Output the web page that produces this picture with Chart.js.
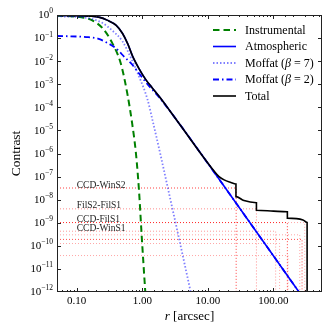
<!DOCTYPE html>
<html>
<head>
<meta charset="utf-8">
<script src="https://cdn.jsdelivr.net/npm/chart.js@4/dist/chart.umd.min.js"></script>
<style>
html, body { margin: 0; padding: 0; background: #fff; }
#caja { width: 332px; height: 332px; }
</style>
</head>
<body>
<div id="caja"><canvas id="grafica" width="332" height="332"></canvas></div>
<script>
/******************************************* DATOS *******************************************/
// Ejes
const xMin = 0.05, xMax = 550;
const yMin = 1e-12, yMax = 1;
const xTicks = [0.1, 1, 10, 100];
const xTickLabels = ["0.10", "1.00", "10.00", "100.00"];
const yTicks = [1, 1e-1, 1e-2, 1e-3, 1e-4, 1e-5, 1e-6, 1e-7, 1e-8, 1e-9, 1e-10, 1e-11, 1e-12];
const yTickExp = ["0", "\u22121", "\u22122", "\u22123", "\u22124", "\u22125", "\u22126", "\u22127", "\u22128", "\u22129", "\u221210", "\u221211", "\u221212"];

// Instrumental (verde, discontinua)
const rInstr = [0.05, 0.1, 0.13, 0.17, 0.25, 0.35, 0.47, 0.59, 0.70, 0.80, 0.89, 0.98, 1.11];
const cInstr = [0.93, 0.85, 0.76, 0.60, 0.26, 0.059, 7.9e-3, 4.0e-4, 2.0e-5, 1.0e-6, 2.5e-8, 2.5e-10, 1e-12];

// Atmospheric (azul)
const rAtmos = [0.05, 0.1, 0.155, 0.224, 0.29, 0.40, 0.50, 0.60, 0.71, 0.89, 1.13, 1.41, 1.80, 2.56, 3.98, 9.27, 245];
const cAtmos = [0.955, 0.933, 0.89, 0.79, 0.60, 0.355, 0.158, 0.056, 0.0166, 4.8e-3, 1.58e-3, 7.1e-4, 3.0e-4, 7.9e-5, 1.41e-5, 5.1e-7, 1e-12];

// Moffat beta = 7 (azul claro, punteada)
const rMoffat7 = [0.05, 0.1, 0.155, 0.25, 0.35, 0.50, 0.67, 0.89, 1.2, 1.43, 1.91, 2.41, 3.42, 5.47];
const cMoffat7 = [0.87, 0.83, 0.72, 0.44, 0.21, 0.071, 0.014, 2.2e-3, 2.2e-4, 2.8e-5, 7.9e-7, 4.0e-8, 4.5e-10, 1e-12];

// Moffat beta = 2 (azul, raya-punto)
const rMoffat2 = [0.05, 0.1, 0.15, 0.21, 0.29, 0.40, 0.53, 0.71, 0.89, 1.2, 1.8, 3.16, 10, 245];
const cMoffat2 = [0.123, 0.117, 0.11, 0.095, 0.063, 0.035, 0.0155, 6.8e-3, 2.95e-3, 1.0e-3, 2.75e-4, 3.5e-5, 3.7e-7, 1e-12];

// Total (negro, con escalones)
const rTotal = [0.05, 0.1, 0.155, 0.224, 0.29, 0.40, 0.50, 0.60, 0.71, 0.89, 1.13, 1.41, 1.80, 2.56, 3.98, 9.27, 12.6, 14.8, 17.7, 22.4, 26.8, 26.8, 35.5, 55, 55, 100, 163, 163, 282, 326, 326];
const cTotal = [0.955, 0.933, 0.89, 0.79, 0.60, 0.355, 0.158, 0.056, 0.0166, 4.8e-3, 1.58e-3, 7.1e-4, 3.0e-4, 7.9e-5, 1.41e-5, 5.1e-7, 1.66e-7, 1.0e-7, 7.2e-8, 5.6e-8, 4.8e-8, 1.35e-8, 9.1e-9, 7.4e-9, 3.5e-9, 3.2e-9, 3.0e-9, 1.58e-9, 1.32e-9, 1.02e-9, 1e-12];

// Fantasmas (lineas rojas punteadas)
const ghostNames = ["CCD-WinS2", "FilS2-FilS1", "CCD-FilS1", "", "CCD-WinS1", "", "", "", ""];
const ghostLevels = [3.2e-8, 4.0e-9, 1.02e-9, 1.02e-9, 4.3e-10, 3.0e-10, 1.9e-10, 1.26e-10, 3.8e-11];
const ghostRadii = [27, 55, 163, 300, 108, 252, 273, 124, 167];
const ghostAlpha = [0.75, 0.45, 0.75, 0.35, 0.4, 0.35, 0.7, 0.35, 0.35];
const ghostLabelAt = 0.1;
/*********************************************************************************************/

const serif = "'Liberation Serif', 'DejaVu Serif', serif";

function curva(r, c) {
    return r.map((v, i) => ({ x: v, y: c[i] }));
}

// Series principales (en el orden de la leyenda)
const datasets = [
    {
        label: "Instrumental",
        leyenda: [["Instrumental", false]],
        data: curva(rInstr, cInstr),
        borderColor: "#008000",
        borderWidth: 2,
        borderDash: [6.5, 4],
        order: 4,
    },
    {
        label: "Atmospheric",
        leyenda: [["Atmospheric", false]],
        data: curva(rAtmos, cAtmos),
        borderColor: "#0000ff",
        borderWidth: 1.6,
        order: 3,
    },
    {
        label: "Moffat7",
        leyenda: [["Moffat (", false], ["\u03b2", true], [" = 7)", false]],
        data: curva(rMoffat7, cMoffat7),
        borderColor: "rgba(0,0,255,0.5)",
        borderWidth: 1.8,
        borderDash: [1.5, 2],
        order: 2,
    },
    {
        label: "Moffat2",
        leyenda: [["Moffat (", false], ["\u03b2", true], [" = 2)", false]],
        data: curva(rMoffat2, cMoffat2),
        borderColor: "#0000ff",
        borderWidth: 1.8,
        borderDash: [6, 3, 1.5, 3],
        order: 1,
    },
    {
        label: "Total",
        leyenda: [["Total", false]],
        data: curva(rTotal, cTotal),
        borderColor: "#000000",
        borderWidth: 1.6,
        order: 0,
    },
];

// Lineas de los fantasmas: horizontal hasta su radio y luego vertical hasta abajo
for (let i = 0; i < ghostLevels.length; i++) {
    datasets.push({
        label: "ghost" + i,
        data: [
            { x: xMin, y: ghostLevels[i] },
            { x: ghostRadii[i], y: ghostLevels[i] },
            { x: ghostRadii[i], y: yMin },
        ],
        borderColor: "rgba(255,0,0," + ghostAlpha[i] + ")",
        borderWidth: 1,
        borderDash: [1, 2],
        cubicInterpolationMode: "default",
        tension: 0,
        order: 5,
    });
}

function esDecada(v) {
    const lg = Math.log10(v);
    return Math.abs(lg - Math.round(lg)) < 1e-6;
}

// Marco, ticks hacia dentro, etiquetas de los ejes, titulos, leyenda
const marco = {
    id: "marco",
    afterDatasetsDraw(chart) {
        const ctx = chart.ctx;
        const a = chart.chartArea;
        const sx = chart.scales.x;
        const sy = chart.scales.y;
        ctx.save();

        // etiquetas de los fantasmas
        ctx.fillStyle = "#222";
        ctx.font = "9.5px " + serif;
        ctx.textAlign = "left";
        ctx.textBaseline = "alphabetic";
        for (let i = 0; i < ghostNames.length; i++) {
            if (!ghostNames[i]) continue;
            ctx.fillText(ghostNames[i], sx.getPixelForValue(ghostLabelAt), sy.getPixelForValue(ghostLevels[i]) - 0.5);
        }

        // marco
        ctx.strokeStyle = "#222";
        ctx.lineWidth = 1;
        ctx.setLineDash([]);
        ctx.strokeRect(a.left + 0.5, a.top + 0.5, a.right - a.left - 1, a.bottom - a.top - 1);

        // ticks eje x (arriba y abajo)
        ctx.beginPath();
        sx.ticks.forEach((t) => {
            const px = Math.round(sx.getPixelForValue(t.value)) + 0.5;
            if (px <= a.left + 1 || px >= a.right - 1) return;
            const len = esDecada(t.value) ? 4 : 2;
            ctx.moveTo(px, a.bottom);
            ctx.lineTo(px, a.bottom - len);
            ctx.moveTo(px, a.top);
            ctx.lineTo(px, a.top + len);
        });
        // ticks eje y (izquierda y derecha)
        yTicks.forEach((v) => {
            const py = Math.round(sy.getPixelForValue(v)) + 0.5;
            if (py <= a.top + 1 || py >= a.bottom - 1) return;
            ctx.moveTo(a.left, py);
            ctx.lineTo(a.left + 4, py);
            ctx.moveTo(a.right, py);
            ctx.lineTo(a.right - 4, py);
        });
        ctx.stroke();

        // etiquetas eje x
        ctx.fillStyle = "#000";
        ctx.font = "11px " + serif;
        ctx.textAlign = "center";
        ctx.textBaseline = "middle";
        for (let i = 0; i < xTicks.length; i++) {
            ctx.fillText(xTickLabels[i], sx.getPixelForValue(xTicks[i]), a.bottom + 9);
        }

        // etiquetas eje y: 10 con exponente
        ctx.textAlign = "left";
        for (let i = 0; i < yTicks.length; i++) {
            const py = sy.getPixelForValue(yTicks[i]);
            ctx.font = "7.5px " + serif;
            const we = ctx.measureText(yTickExp[i]).width;
            ctx.font = "11px " + serif;
            const wb = ctx.measureText("10").width;
            const xe = a.left - 4 - we;
            ctx.fillText("10", xe - wb, py + 0.5);
            ctx.font = "7.5px " + serif;
            ctx.fillText(yTickExp[i], xe, py - 3.5);
        }

        // titulo eje y
        ctx.font = "13.5px " + serif;
        ctx.textAlign = "center";
        ctx.save();
        ctx.translate(16, (a.top + a.bottom) / 2);
        ctx.rotate(-Math.PI / 2);
        ctx.fillText("Contrast", 0, 0);
        ctx.restore();

        // titulo eje x: r [arcsec]
        ctx.textAlign = "left";
        ctx.font = "italic 13px " + serif;
        const wr = ctx.measureText("r").width;
        ctx.font = "13px " + serif;
        const wt = ctx.measureText(" [arcsec]").width;
        const x0 = (a.left + a.right) / 2 - (wr + wt) / 2;
        ctx.font = "italic 13px " + serif;
        ctx.fillText("r", x0, 317);
        ctx.font = "13px " + serif;
        ctx.fillText(" [arcsec]", x0 + wr, 317);

        // leyenda
        const x1 = a.right - 109, x2 = a.right - 86, xt = a.right - 77;
        datasets.slice(0, 5).forEach((d, i) => {
            const py = a.top + 15 + i * 16.5;
            ctx.strokeStyle = d.borderColor;
            ctx.lineWidth = d.borderWidth;
            ctx.setLineDash(d.borderDash || []);
            ctx.beginPath();
            ctx.moveTo(x1, py);
            ctx.lineTo(x2, py);
            ctx.stroke();
            ctx.setLineDash([]);
            let xx = xt;
            d.leyenda.forEach((s) => {
                ctx.font = (s[1] ? "italic " : "") + "12px " + serif;
                ctx.fillText(s[0], xx, py + 0.5);
                xx += ctx.measureText(s[0]).width;
            });
        });

        ctx.restore();
    },
};

const grafica = new Chart(document.getElementById("grafica").getContext("2d"), {
    type: "line",
    data: { datasets: datasets },
    options: {
        responsive: false,
        animation: false,
        devicePixelRatio: 1,
        elements: {
            point: { radius: 0 },
            line: { fill: false, cubicInterpolationMode: "monotone" },
        },
        layout: { padding: { left: 0, right: 10, top: 15, bottom: 0 } },
        plugins: {
            legend: { display: false },
            tooltip: { enabled: false },
        },
        scales: {
            x: {
                type: "logarithmic",
                min: xMin,
                max: xMax,
                grid: { display: false },
                border: { display: false },
                ticks: { display: false },
                afterFit: function (scale) {
                    scale.height = 40;
                },
            },
            y: {
                type: "logarithmic",
                min: yMin,
                max: yMax,
                grid: { display: false },
                border: { display: false },
                ticks: { display: false },
                afterFit: function (scale) {
                    scale.width = 57;
                },
            },
        },
    },
    plugins: [marco],
});
</script>
</body>
</html>
